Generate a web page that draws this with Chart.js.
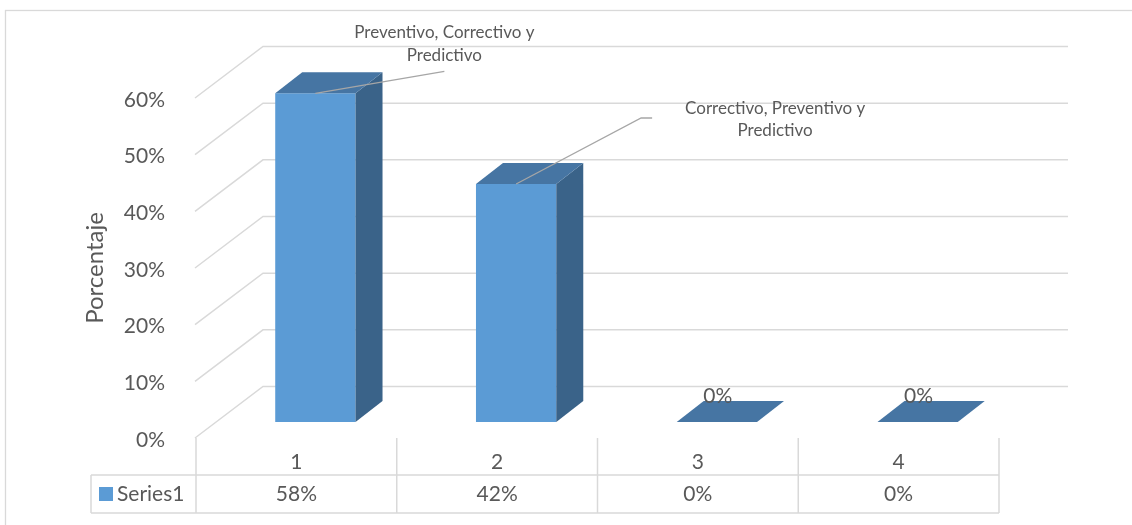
<!DOCTYPE html>
<html>
<head>
<meta charset="utf-8">
<script src="https://cdn.jsdelivr.net/npm/chart.js@4/dist/chart.umd.min.js"></script>
<style>
    html, body { margin: 0; padding: 0; background: #fff; }
    canvas { display: block; }
</style>
</head>
<body>
<canvas id="chart" width="1132" height="525"></canvas>
<script>
// ======================
// DATA
// ======================
const categories = ["1", "2", "3", "4"];
const seriesName = "Series1";
const values = [0.58, 0.42, 0, 0];
const yTicks = [0, 0.1, 0.2, 0.3, 0.4, 0.5, 0.6];
const dataLabels = [
    ["Preventivo, Correctivo y", "Predictivo"],
    ["Correctivo, Preventivo y", "Predictivo"],
    ["0%"],
    ["0%"]
];


// ======================
// LOOK
// ======================
const FONT = "Lato, 'Open Sans', sans-serif";
const TEXT = "#595959";
const GRID = "#d9d9d9";
const FRONT = "#5b9bd5";
const TOP = "#4675a3";
const SIDE = "#3a6389";
const DEPTH_X = 27, DEPTH_Y = -21;   // bar depth
const SHIFT = 19;                    // bars sit right of the table column centre
const BACK_DX = 68, BACK_DY = -35.5, FRONT_DY = 16;

// leader line / label placement for each data label (relative to bar top)
const labelPlace = [
    { line: [[129, -22]], text: [129, -61], gap: 23 },
    { line: [[125, -66], [136, -66]], text: [259, -75], gap: 22 },
    { line: null, text: [1, -26], gap: 0 },
    { line: null, text: [1, -26], gap: 0 }
];

const pct = v => Math.round(v * 100) + "%";


// ======================
// 3D + TABLE PLUGIN
// ======================
const excel3d = {
    id: "excel3d",
    beforeDatasetsDraw(chart) {
        const ctx = chart.ctx;
        const y = chart.scales.y;
        const area = chart.chartArea;
        const colW = (area.right - area.left) / categories.length;
        const tableLeft = area.left - SHIFT;
        const tableRight = area.right - SHIFT;
        const frontX = tableLeft - 1;

        ctx.save();

        // outer border
        ctx.strokeStyle = GRID;
        ctx.lineWidth = 1.3;
        ctx.strokeRect(5.5, 10.5, 1140, 540);

        // back wall gridlines with floor diagonals
        ctx.lineWidth = 1.5;
        yTicks.forEach(v => {
            const py = y.getPixelForValue(v);
            ctx.beginPath();
            ctx.moveTo(frontX, py + FRONT_DY);
            ctx.lineTo(frontX + BACK_DX, py + BACK_DY);
            ctx.lineTo(1068, py + BACK_DY);
            ctx.stroke();
        });

        // data table lines
        const rowTop = area.bottom + FRONT_DY;
        const rowMid = 475, rowBot = 513, legendLeft = 91;
        ctx.beginPath();
        for (let i = 0; i <= categories.length; i++) {
            const x = tableLeft + i * colW;
            ctx.moveTo(x, rowTop);
            ctx.lineTo(x, rowBot);
        }
        ctx.moveTo(legendLeft, rowMid);
        ctx.lineTo(tableRight, rowMid);
        ctx.moveTo(legendLeft, rowBot);
        ctx.lineTo(tableRight, rowBot);
        ctx.moveTo(legendLeft, rowMid);
        ctx.lineTo(legendLeft, rowBot);
        ctx.stroke();

        // legend key + values row
        ctx.fillStyle = FRONT;
        ctx.fillRect(99, 487, 14, 14);
        ctx.fillStyle = TEXT;
        ctx.font = "21px " + FONT;
        ctx.textBaseline = "middle";
        ctx.textAlign = "left";
        ctx.fillText(seriesName, 117, 494);
        ctx.textAlign = "center";
        values.forEach((v, i) => {
            ctx.fillText(pct(v), tableLeft + (i + 0.5) * colW, 494);
        });

        // axis title
        ctx.translate(95, 268);
        ctx.rotate(-Math.PI / 2);
        ctx.font = "24px " + FONT;
        ctx.fillText("Porcentaje", 0, 0);

        ctx.restore();
    },
    afterDatasetsDraw(chart) {
        const ctx = chart.ctx;
        const meta = chart.getDatasetMeta(0);
        ctx.save();

        meta.data.forEach((bar, i) => {
            const left = bar.x - bar.width / 2;
            const right = bar.x + bar.width / 2;
            const top = bar.y, base = bar.base;

            // side face
            if (base - top > 0.5) {
                ctx.fillStyle = SIDE;
                ctx.beginPath();
                ctx.moveTo(right, top);
                ctx.lineTo(right + DEPTH_X, top + DEPTH_Y);
                ctx.lineTo(right + DEPTH_X, base + DEPTH_Y);
                ctx.lineTo(right, base);
                ctx.closePath();
                ctx.fill();
            }

            // top face
            ctx.fillStyle = TOP;
            ctx.beginPath();
            ctx.moveTo(left, top);
            ctx.lineTo(left + DEPTH_X, top + DEPTH_Y);
            ctx.lineTo(right + DEPTH_X, top + DEPTH_Y);
            ctx.lineTo(right, top);
            ctx.closePath();
            ctx.fill();
        });

        // data labels with leader lines
        meta.data.forEach((bar, i) => {
            const place = labelPlace[i];
            if (place.line) {
                ctx.strokeStyle = "#a6a6a6";
                ctx.lineWidth = 1.3;
                ctx.beginPath();
                ctx.moveTo(bar.x, bar.y);
                place.line.forEach(p => ctx.lineTo(bar.x + p[0], bar.y + p[1]));
                ctx.stroke();
            }
            ctx.fillStyle = TEXT;
            ctx.font = (place.line ? "17px " : "21px ") + FONT;
            ctx.textAlign = "center";
            ctx.textBaseline = "middle";
            dataLabels[i].forEach((line, k) => {
                ctx.fillText(line, bar.x + place.text[0], bar.y + place.text[1] + k * place.gap);
            });
        });

        ctx.restore();
    }
};


// ======================
// CHART SETUP
// ======================
new Chart(document.getElementById("chart"), {
    type: "bar",
    data: {
        labels: categories,
        datasets: [{
            label: seriesName,
            data: values,
            backgroundColor: FRONT,
            borderWidth: 0,
            barPercentage: 0.4,
            categoryPercentage: 1
        }]
    },
    options: {
        responsive: false,
        animation: false,
        layout: { padding: { top: 82, right: 114, bottom: 0, left: 0 } },
        plugins: {
            legend: { display: false },
            tooltip: { enabled: false }
        },
        scales: {
            x: {
                offset: true,
                grid: { display: false },
                border: { display: false },
                ticks: {
                    color: TEXT,
                    font: { family: FONT, size: 21 },
                    padding: 20,
                    labelOffset: -SHIFT,
                    maxRotation: 0
                },
                afterFit: s => { s.height = 103; }
            },
            y: {
                min: 0,
                max: 0.6,
                grid: { display: false },
                border: { display: false },
                ticks: {
                    stepSize: 0.1,
                    color: TEXT,
                    font: { family: FONT, size: 21 },
                    padding: 42,
                    labelOffset: 18,
                    callback: v => pct(v)
                },
                afterFit: s => { s.width = 215; }
            }
        }
    },
    plugins: [excel3d]
});
</script>
</body>
</html>
